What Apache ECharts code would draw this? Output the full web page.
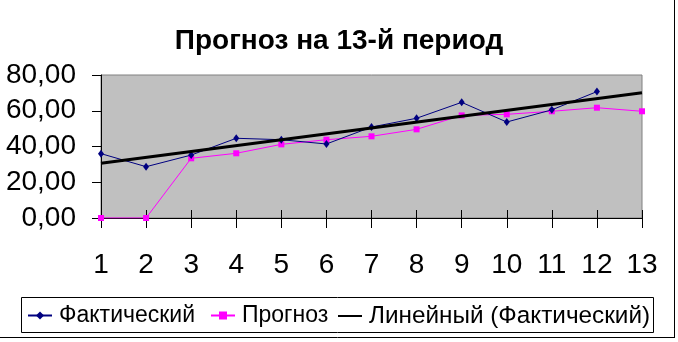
<!DOCTYPE html>
<html>
<head>
<meta charset="utf-8">
<script src="https://cdn.jsdelivr.net/npm/echarts@6/dist/echarts.min.js"></script>
<style>
html,body{margin:0;padding:0;background:#fff;}
#c{width:678px;height:342px;}
</style>
</head>
<body>
<div id="c"></div>
<script>
var categories = ['1','2','3','4','5','6','7','8','9','10','11','12','13'];
var actual = [36.0, 28.7, 35.2, 44.6, 43.8, 41.4, 50.9, 55.8, 64.7, 53.7, 60.5, 70.7, null];
var forecast = [0, 0, 33.4, 36.2, 41.2, 43.8, 45.7, 49.6, 57.4, 58.0, 59.7, 61.7, 59.7];
var trendPoints = [['1', 30.6], ['13', 70.1]];
var yTicks = [0, 20, 40, 60, 80];
var names = ['Фактический', 'Прогноз', 'Линейный (Фактический)'];

var chart = echarts.init(document.getElementById('c'), null, {renderer: 'canvas'});
var font = 'Liberation Sans, Arial, sans-serif';
function legendItem(left, name, size, extra) {
  return Object.assign({
    top: 304, left: left, itemWidth: 24, itemHeight: 10, itemGap: 0, padding: 0,
    data: [name],
    textStyle: {fontFamily: font, fontSize: size, color: '#000', padding: [0,0,0,2]}
  }, extra || {});
}
chart.setOption({
  animation: false,
  backgroundColor: '#fff',
  title: {
    text: 'Прогноз на 13-й период',
    left: 'center', top: 22,
    textStyle: {fontFamily: font, fontSize: 28, fontWeight: 'bold', color: '#000'}
  },
  legend: [
    legendItem(27, names[0], 23),
    legendItem(210, names[1], 23),
    legendItem(338, names[2], 24.3, {icon: 'rect', itemHeight: 2})
  ],
  grid: {
    left: 101, right: 36, top: 75, bottom: 124,
    show: true, backgroundColor: '#C0C0C0', borderColor: '#808080', borderWidth: 1
  },
  xAxis: [{
    type: 'category', data: categories, boundaryGap: false,
    axisLine: {lineStyle: {color: '#000', width: 1}},
    axisTick: {show: true, length: 10, alignWithLabel: true, lineStyle: {color: '#000'}},
    axisLabel: {fontFamily: font, fontSize: 28, color: '#000', margin: 33, interval: 0},
    splitLine: {show: false}
  }, {
    type: 'category', data: categories, boundaryGap: false, position: 'bottom',
    axisLine: {show: false},
    axisTick: {show: true, inside: true, length: 8, lineStyle: {color: '#000'}},
    axisLabel: {show: false},
    splitLine: {show: false}
  }],
  yAxis: {
    type: 'value', min: yTicks[0], max: yTicks[yTicks.length-1], interval: 20,
    axisLine: {show: true, lineStyle: {color: '#000', width: 1}},
    axisTick: {show: true, length: 9, lineStyle: {color: '#000'}},
    axisLabel: {fontFamily: font, fontSize: 28, color: '#000', margin: 25,
      formatter: function(v){ return v.toFixed(2).replace('.', ','); }},
    splitLine: {show: false}
  },
  series: [
    {
      name: names[0], type: 'line', data: actual,
      symbol: 'diamond', symbolSize: [6, 8], showAllSymbol: true,
      itemStyle: {color: '#000080'}, lineStyle: {color: '#000080', width: 1}, z: 3
    },
    {
      name: names[1], type: 'line', data: forecast,
      symbol: 'rect', symbolSize: 6, showAllSymbol: true,
      itemStyle: {color: '#FF00FF'}, lineStyle: {color: '#FF00FF', width: 1}, z: 2
    },
    {
      name: names[2], type: 'line', data: trendPoints,
      symbol: 'none', itemStyle: {color: '#000'}, lineStyle: {color: '#000', width: 3}, z: 4
    }
  ],
  graphic: [
    {type: 'rect', shape: {x: 21.5, y: 297.5, width: 632, height: 35}, style: {fill: 'none', stroke: '#000', lineWidth: 1}, z: -1},
    {type: 'line', shape: {x1: 674.5, y1: 0, x2: 674.5, y2: 338}, style: {stroke: '#000', lineWidth: 1}},
    {type: 'line', shape: {x1: 0, y1: 337.5, x2: 675, y2: 337.5}, style: {stroke: '#000', lineWidth: 1}}
  ]
});
</script>
</body>
</html>
